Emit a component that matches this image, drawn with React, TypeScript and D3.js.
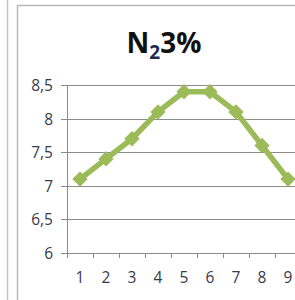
import * as d3 from 'd3'
import React, { useEffect, useRef } from 'react'

const categories = ['1', '2', '3', '4', '5', '6', '7', '8', '9'];
const values = [7.1, 7.4, 7.7, 8.1, 8.4, 8.4, 8.1, 7.6, 7.1];
const yTicks = [6, 6.5, 7, 7.5, 8, 8.5];

const App: React.FC = () => {
    const ref = useRef<SVGSVGElement>(null);

    useEffect(() => {
        if (!ref.current) return;
        const width = 295;
        const height = 300;
        const margin = { top: 85, left: 67, bottom: 47 };
        const svg = d3.select(ref.current);
        svg.selectAll('*').remove();

        // frame
        svg.append('rect').attr('width', width).attr('height', height).attr('fill', 'white');
        svg.append('line').attr('x1', 7.5).attr('x2', 7.5).attr('y1', 0).attr('y2', height)
            .attr('stroke', '#c4c4c4').attr('stroke-width', 1.5);
        svg.append('line').attr('x1', 17.5).attr('x2', 17.5).attr('y1', 5).attr('y2', height)
            .attr('stroke', '#b8b8b8').attr('stroke-width', 1.5);
        svg.append('line').attr('x1', 17).attr('x2', width).attr('y1', 5.5).attr('y2', 5.5)
            .attr('stroke', '#b8b8b8').attr('stroke-width', 1.5);

        const x = d3.scaleBand<string>()
            .domain(categories)
            .range([margin.left, margin.left + 26 * categories.length]);
        const y = d3.scaleLinear().domain([6, 8.5]).range([height - margin.bottom, margin.top]);

        // gridlines
        svg.append('g')
            .selectAll('line')
            .data(yTicks)
            .enter()
            .append('line')
            .attr('x1', margin.left - 6)
            .attr('x2', width)
            .attr('y1', d => Math.round(y(d)) + 0.5)
            .attr('y2', d => Math.round(y(d)) + 0.5)
            .attr('stroke', '#8c8c8c')
            .attr('stroke-width', 1);

        // y axis line
        svg.append('line')
            .attr('x1', margin.left + 0.5).attr('x2', margin.left + 0.5)
            .attr('y1', y(8.5)).attr('y2', y(6) + 5)
            .attr('stroke', '#8c8c8c');

        // x tick marks
        const bounds = categories.map(c => x(c) as number);
        svg.append('g')
            .selectAll('line')
            .data(bounds.slice(1))
            .enter()
            .append('line')
            .attr('x1', d => Math.round(d) + 0.5)
            .attr('x2', d => Math.round(d) + 0.5)
            .attr('y1', Math.round(y(6)))
            .attr('y2', Math.round(y(6)) + 5)
            .attr('stroke', '#8c8c8c');

        // y labels
        svg.append('g')
            .attr('font-family', 'Open Sans, sans-serif')
            .attr('font-size', 15.5)
            .attr('fill', '#3a3a4a')
            .attr('text-anchor', 'end')
            .selectAll('text')
            .data(yTicks)
            .enter()
            .append('text')
            .attr('x', 53)
            .attr('y', d => y(d) + 6)
            .text(d => d.toString().replace('.', ','));

        // x labels
        svg.append('g')
            .attr('font-family', 'Open Sans, sans-serif')
            .attr('font-size', 15.5)
            .attr('fill', '#3a3a4a')
            .attr('text-anchor', 'middle')
            .selectAll('text')
            .data(categories)
            .enter()
            .append('text')
            .attr('x', d => (x(d) as number) + x.bandwidth() / 2)
            .attr('y', 283)
            .text(d => d);

        // title
        const title = svg.append('text')
            .attr('x', 164)
            .attr('y', 53)
            .attr('text-anchor', 'middle')
            .attr('font-family', 'Open Sans, sans-serif')
            .attr('font-weight', 'bold')
            .attr('font-size', 28)
            .attr('fill', '#111');
        title.append('tspan').text('N');
        title.append('tspan').attr('font-size', 19).attr('dy', 6).attr('fill', '#1c2a5a').text('2');
        title.append('tspan').attr('dy', -6).text('3%');

        const cx = (d: string) => (x(d) as number) + x.bandwidth() / 2;
        const line = d3.line<number>()
            .x((_, i) => cx(categories[i]))
            .y(d => y(d));

        svg.append('path')
            .datum(values)
            .attr('fill', 'none')
            .attr('stroke', '#9bbb59')
            .attr('stroke-width', 5.5)
            .attr('stroke-linejoin', 'round')
            .attr('d', line);

        const diamond = d3.symbol().type(d3.symbolDiamond2).size(150);
        svg.append('g')
            .selectAll('path')
            .data(values)
            .enter()
            .append('path')
            .attr('transform', (d, i) => `translate(${cx(categories[i])},${y(d)})`)
            .attr('d', diamond)
            .attr('fill', '#9bbb59');
    }, []);

    return <svg ref={ref} width={295} height={300} style={{ position: 'absolute', left: 0, top: 0 }}></svg>;
};

export default App;
